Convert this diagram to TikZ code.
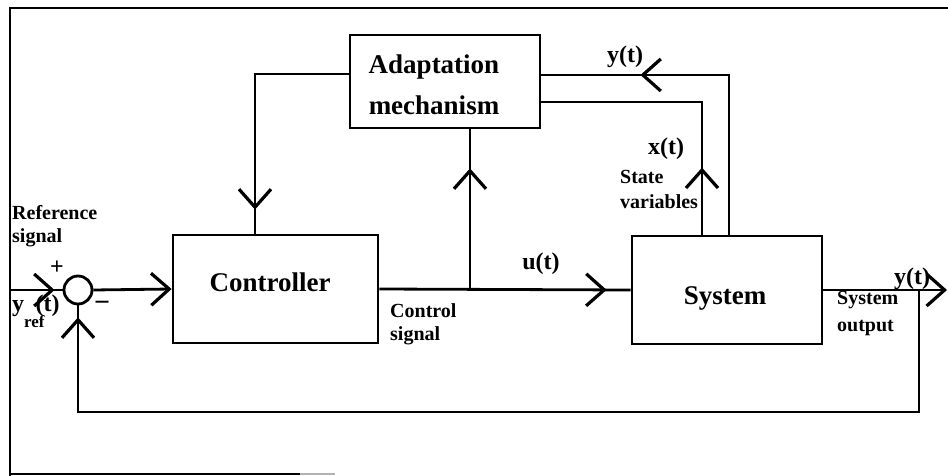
\documentclass[tikz,border=0pt]{standalone}
\usepackage{fontspec}
\setmainfont{Liberation Serif}
\usetikzlibrary{arrows.meta,decorations.markings}

\tikzset{
  barb/.tip={Straight Barb[length=18pt,width=32pt,line width=3.2pt]},
  wire/.style={line width=2.8pt},
  block/.style={draw,line width=2.8pt,rectangle,inner sep=0pt},
  junction/.style={draw,circle,line width=2.8pt,minimum size=28pt,inner sep=0pt},
  midarrow/.style={postaction={decorate,decoration={markings,mark=at position #1 with {\arrow{barb}}}}},
  boxtext/.style={font=\fontsize{27}{41}\selectfont\bfseries,inner sep=0pt},
  sigtext/.style={font=\fontsize{24}{26}\selectfont\bfseries,inner sep=0pt},
  note/.style={font=\fontsize{20}{23}\selectfont\bfseries,inner sep=0pt,align=left},
  signtext/.style={font=\fontsize{24}{24}\selectfont\bfseries,inner sep=0pt},
}

\begin{document}
\begin{tikzpicture}[x=1pt,y=-1pt]
\useasboundingbox (0,0) rectangle (948,476);

% outer frame
\draw[wire] (948,8) -- (10,8) -- (10,476);
\draw[wire] (10,474) -- (300,474);
\draw[wire,gray!60] (300,474) -- (335,474);

% blocks
\node[block,minimum width=190pt,minimum height=93pt] (adapt) at (445,81.5) {};
\node[block,minimum width=205pt,minimum height=108pt] (ctrl) at (275.5,289) {};
\node[block,minimum width=190pt,minimum height=108pt] (sys) at (727,290) {};
\node[junction] (sum) at (78,290) {};

% block labels (base anchor of a multi-line node sits on its last line)
\node[boxtext,align=center,anchor=base] (adapt-label) at (434,115) {Adaptation\\mechanism};
\node[boxtext,anchor=base] (ctrl-label) at (270,291) {Controller};
\node[boxtext,anchor=base] (sys-label) at (725,304) {System};

% junction signs
\node[signtext] (plus) at (57,268) {+};
\node[signtext,font=\fontsize{28}{28}\selectfont\bfseries] (minus) at (102,306) {\symbol{"2212}};

% routing points
\coordinate (in) at (10,290);
\coordinate (out) at (947,290);
\coordinate (br) at (470,290);
\coordinate (cdn) at (255,74);
\coordinate (yup) at (729,75);
\coordinate (xup) at (702,102);
\coordinate (tap) at (919,290);
\coordinate (fb) at (919,412);

% forward path
\draw[wire,midarrow=-8pt] (in) -- (sum.west);
\draw[wire,-{barb}] (sum.east) -- (ctrl.west);
\draw[wire,midarrow=-24pt] (ctrl.east) -- (sys.west);
\draw[wire,-{barb}] (sys.east) -- (out);

% adaptation loop
\draw[wire,midarrow=-39pt] (br) -- (adapt.south -| br);
\draw[wire,midarrow=-24pt] (adapt.west |- cdn) -- (cdn) -- (ctrl.north -| cdn);
\draw[wire,midarrow=-99pt] (sys.north -| yup) -- (yup) -- (adapt.east |- yup);
\draw[wire,midarrow=67pt] (sys.north -| xup) -- (xup) -- (adapt.east |- xup);

% output feedback
\draw[wire,midarrow=-12pt] (tap) -- (fb) -| (sum.south);

% signal labels
\node[sigtext,anchor=base] (u-label) at (541,269) {u(t)};
\node[sigtext,anchor=base] (yfb-label) at (625,63) {y(t)};
\node[sigtext,anchor=base] (x-label) at (666,154) {x(t)};
\node[sigtext,anchor=base] (yout-label) at (912,284) {y(t)};
\node[sigtext,anchor=base west] (yref-label) at (12,311)
  {y\raisebox{-16pt}{\fontsize{17}{17}\selectfont ref}\kern-9pt(t)};

% notes
\node[note,anchor=base west] (ref-label) at (12,242) {Reference\\signal};
\node[note,anchor=base west] (ctrlsig-label) at (390,340) {Control\\signal};
\node[note,anchor=base west,font=\fontsize{20}{25}\selectfont\bfseries] (state-label) at (620,208) {State\\variables};
\node[note,anchor=base west,font=\fontsize{20}{27}\selectfont\bfseries] (sysout-label) at (837,331) {System\\output};
\end{tikzpicture}
\end{document}
